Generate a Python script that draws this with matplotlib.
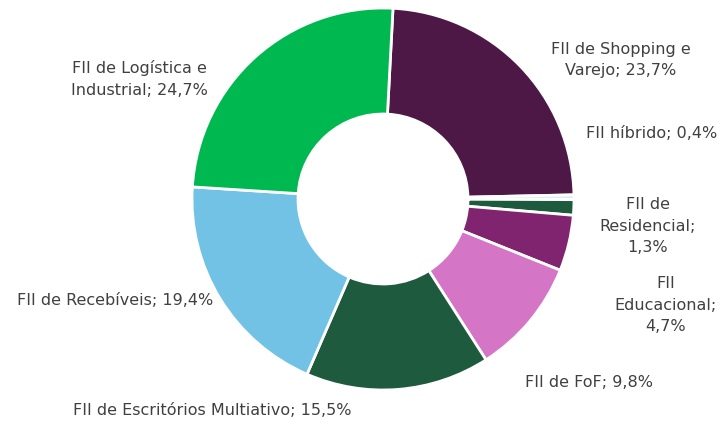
import matplotlib.pyplot as plt

# dados do gráfico (sentido horário a partir do topo)
categorias = ["FII de Shopping e\nVarejo", "FII híbrido", "FII de\nResidencial",
              "FII\nEducacional", "FII de FoF", "FII de Escritórios Multiativo",
              "FII de Recebíveis", "FII de Logística e\nIndustrial"]
valores = [23.7, 0.4, 1.3, 4.7, 9.8, 15.5, 19.4, 24.7]
rotulos_pct = ["23,7%", "0,4%", "1,3%", "4,7%", "9,8%", "15,5%", "19,4%", "24,7%"]
cores = ["#4E1846", "#DDEBF7", "#1E5B3E", "#80246F", "#D575C5",
         "#1E5B3E", "#72C2E6", "#00B850"]

# posição dos textos em pixels (x, y a partir do topo)
pos_txt = [(621, 60), (652, 133), (648, 226), (666, 305), (589, 382),
           (212, 410), (115, 300), (139, 79)]
sep = [" ", " ", "\n", "\n", " ", " ", " ", " "]

W, H = 723, 423
fig = plt.figure(figsize=(W / 100, H / 100), dpi=100)
cx, cy, r = 383, 199, 191
ax = fig.add_axes([(cx - r) / W, (H - cy - r) / H, 2 * r / W, 2 * r / H])

ax.pie(valores, colors=cores, startangle=87, counterclock=False, radius=1,
       wedgeprops=dict(width=0.555, edgecolor="white", linewidth=2))
ax.set_xlim(-1, 1)
ax.set_ylim(-1, 1)
ax.set_aspect("equal")
ax.axis("off")

for cat, pct, (px, py), s in zip(categorias, rotulos_pct, pos_txt, sep):
    fig.text(px / W, 1 - py / H, cat + ";" + s + pct, ha="center", va="center",
             fontsize=11.5, color="#404040", linespacing=1.55,
             family="DejaVu Sans")

fig.savefig("out.png", dpi=100)
